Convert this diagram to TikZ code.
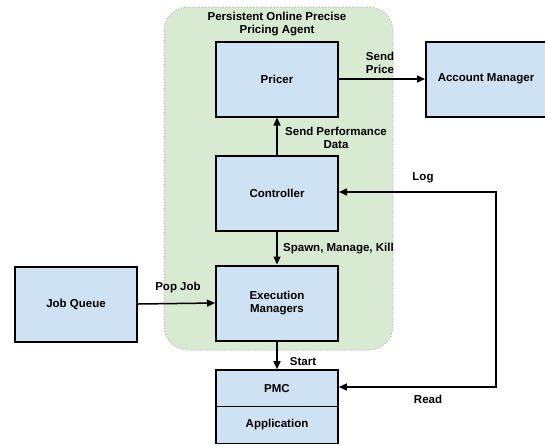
\documentclass[tikz,border=0pt]{standalone}
\usepackage{fontspec}
\setmainfont{Liberation Sans}
\usetikzlibrary{arrows.meta}
\definecolor{boxblue}{HTML}{CFE2F3}
\definecolor{grpgreen}{HTML}{D9EAD3}
\begin{document}
\begin{tikzpicture}[x=1pt,y=-1pt,
  font=\fontsize{11.5}{13}\selectfont\bfseries,
  box/.style={draw=black,line width=2pt,fill=boxblue,minimum width=122pt,minimum height=75pt,align=center,inner sep=0pt},
  sbox/.style={draw=black,line width=1.6pt,fill=boxblue,minimum width=122pt,minimum height=37pt,align=center,inner sep=0pt},
  conn/.style={line width=1.5pt,-{Triangle[length=8pt,width=7pt]}},
  lbl/.style={align=center,inner sep=0pt}]
\useasboundingbox (0,0) rectangle (545,445);
% group
\draw[fill=grpgreen,draw=black!30,dotted,line width=1pt,rounded corners=24pt] (164,7) rectangle (393,350);
\node[lbl] (title) at (277,24) {Persistent Online Precise\\Pricing Agent};
% boxes
\node[box] (pricer) at (277,79) {Pricer};
\node[box] (ctrl) at (277,193) {Controller};
\node[box] (exec) at (277,303) {Execution\\Managers};
\node[box] (jq) at (76,304) {Job Queue};
\node[box,minimum width=124pt] (am) at (488,79) {\hspace*{-4pt}Account Manager};
\node[sbox] (pmc) at (277,388.5) {PMC};
\node[sbox] (app) at (277,425) {Application};
% connectors
\draw[conn] (pricer.east) -- (am.west);
\node[lbl] (sendprice) at (380,63) {Send\\Price};
\draw[conn] (ctrl.north) -- (pricer.south);
\node[lbl] (spd) at (336,138) {Send Performance\\Data};
\draw[conn] (ctrl.south) -- (exec.north);
\node[lbl,anchor=west] (smk) at (283,249) {Spawn, Manage, Kill};
\draw[conn] (jq.east) -- (exec.west);
\node[lbl] (pop) at (178,288) {Pop Job};
\draw[conn] (exec.south) -- (pmc.north);
\node[lbl] (start) at (303,362) {Start};
\coordinate (rt) at (496,192);
\coordinate (rb) at (496,387);
\draw[line width=1.5pt,{Triangle[length=8pt,width=7pt]}-{Triangle[length=8pt,width=7pt]}] (ctrl.east |- rt) -- (rt) -- (rb) -- (pmc.east |- rb);
\node[lbl] (log) at (423,178) {Log};
\node[lbl] (read) at (428,399) {Read};
\end{tikzpicture}
\end{document}
